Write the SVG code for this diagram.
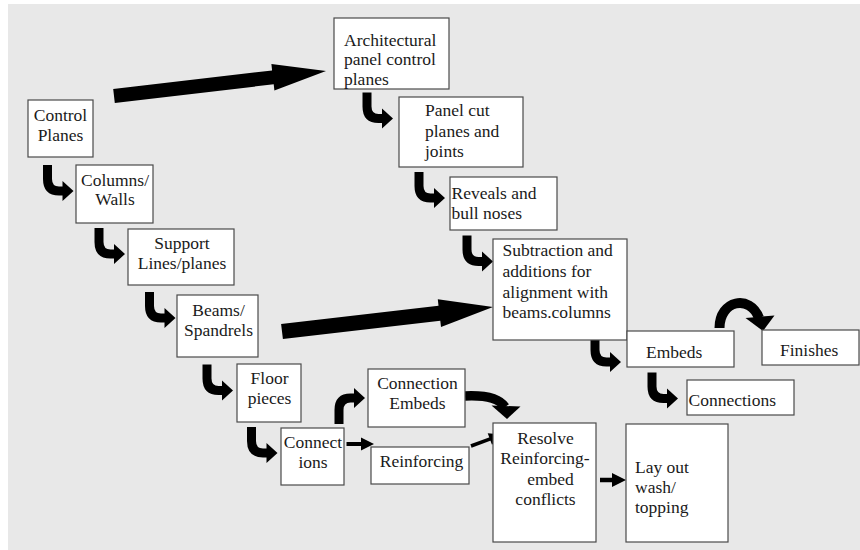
<svg xmlns="http://www.w3.org/2000/svg" xmlns:xlink="http://www.w3.org/1999/xlink" width="860" height="550" viewBox="0 0 860 550" font-family="'Liberation Serif', 'Times New Roman', serif">
<style>
.box{fill:#ffffff;stroke:#4a4a4a;stroke-width:1.2}
.t{font-size:17.5px;fill:#1a1a1a}
.c{text-anchor:middle}
.ar{fill:#000}
.ln{stroke:#000;fill:none}
</style>
<defs>
<path id="bend" d="M0,0 H9 V14 Q9,21.5 16,21.5 H19.5 V16 L30.5,26 L19.5,36 V30.5 H16 Q0,30.5 0,14 Z"/>
</defs>
<rect x="0" y="0" width="860" height="550" fill="#ffffff"/>
<rect x="8" y="4" width="852" height="546" fill="#e8e8e8"/>

<g id="connectors">
<polygon class="ar" points="113.2,89.1 272.1,70.4 271.4,64 326,71 274.4,90.6 273.7,84.3 114.8,103"/>
<polygon class="ar" points="281.1,324 438.5,305.8 437.8,299.3 493,307 441,327.1 440.3,320.7 282.9,339"/>
<use xlink:href="#bend" class="ar" x="43" y="165"/>
<use xlink:href="#bend" class="ar" x="94.5" y="228"/>
<use xlink:href="#bend" class="ar" x="145" y="292"/>
<use xlink:href="#bend" class="ar" x="202.5" y="364.5"/>
<use xlink:href="#bend" class="ar" x="247" y="427"/>
<use xlink:href="#bend" class="ar" x="362.5" y="92.5"/>
<use xlink:href="#bend" class="ar" x="414.5" y="172"/>
<use xlink:href="#bend" class="ar" x="462.5" y="235.5"/>
<use xlink:href="#bend" class="ar" x="590.5" y="336"/>
<use xlink:href="#bend" class="ar" x="647.5" y="372.5"/>
<use xlink:href="#bend" class="ar" transform="translate(334.5,424) scale(1,-1)"/>
<path class="ln" stroke-width="9.5" d="M465,396 C486,395 499,398 505,407"/>
<polygon class="ar" points="491.5,405.5 520.5,406.5 507,419"/>
<path class="ln" stroke-width="10" d="M719.5,328 C719.5,300 750,294 759,318"/>
<polygon class="ar" points="745.5,318 774.5,315.5 763,331"/>
<line class="ln" stroke-width="4" x1="346.5" y1="444" x2="362" y2="444"/>
<polygon class="ar" points="361,437.5 374,444 361,450.5"/>
<line class="ln" stroke-width="3.5" x1="471" y1="446" x2="491" y2="438.6"/>
<polygon class="ar" points="487.7,433.2 502.5,434.5 492,444.8"/>
<line class="ln" stroke-width="4.5" x1="600" y1="480" x2="613" y2="480"/>
<polygon class="ar" points="612,473 626,480 612,487"/>
</g>

<g id="n-control-planes">
<rect class="box" x="28" y="100" width="65" height="57"/>
<text class="t c" x="60.5" y="120.5">Control</text>
<text class="t c" x="60.5" y="140.5">Planes</text>
</g>
<g id="n-columns-walls">
<rect class="box" x="76" y="165" width="77" height="58"/>
<text class="t c" x="115" y="186">Columns/</text>
<text class="t c" x="115" y="205">Walls</text>
</g>
<g id="n-support">
<rect class="box" x="128" y="229" width="106" height="56"/>
<text class="t c" x="182" y="249">Support</text>
<text class="t c" x="182" y="269">Lines/planes</text>
</g>
<g id="n-beams">
<rect class="box" x="177" y="295" width="81" height="62"/>
<text class="t c" x="218.5" y="315.5">Beams/</text>
<text class="t c" x="218.5" y="336">Spandrels</text>
</g>
<g id="n-floor">
<rect class="box" x="237" y="364" width="64" height="58"/>
<text class="t c" x="269.5" y="384">Floor</text>
<text class="t c" x="269.5" y="404">pieces</text>
</g>
<g id="n-connections-left">
<rect class="box" x="281" y="428" width="63" height="57"/>
<text class="t c" x="313" y="447.5">Connect</text>
<text class="t c" x="313" y="467.5">ions</text>
</g>
<g id="n-connection-embeds">
<rect class="box" x="368" y="369" width="97" height="58"/>
<text class="t c" x="417.5" y="389">Connection</text>
<text class="t c" x="417.5" y="409">Embeds</text>
</g>
<g id="n-reinforcing">
<rect class="box" x="371" y="447" width="98" height="37"/>
<text class="t c" x="421.5" y="466.5">Reinforcing</text>
</g>
<g id="n-architectural">
<rect class="box" x="334" y="18" width="115" height="71"/>
<text class="t" x="344" y="45.5">Architectural</text>
<text class="t" x="344" y="65">panel control</text>
<text class="t" x="344" y="84.5">planes</text>
</g>
<g id="n-panel-cut">
<rect class="box" x="399" y="97" width="124" height="70"/>
<text class="t" x="425" y="116">Panel cut</text>
<text class="t" x="425" y="136.5">planes and</text>
<text class="t" x="425" y="157">joints</text>
</g>
<g id="n-reveals">
<rect class="box" x="450" y="177" width="107" height="53"/>
<text class="t" x="451.5" y="198.5">Reveals and</text>
<text class="t" x="451.5" y="219">bull noses</text>
</g>
<g id="n-subtraction">
<rect class="box" x="493" y="239" width="134" height="101"/>
<text class="t" x="502.5" y="256">Subtraction and</text>
<text class="t" x="502.5" y="276.5">additions for</text>
<text class="t" x="502.5" y="297.5">alignment with</text>
<text class="t" x="502.5" y="318">beams.columns</text>
</g>
<g id="n-embeds">
<rect class="box" x="627" y="331" width="107" height="36"/>
<text class="t" x="646" y="357.5">Embeds</text>
</g>
<g id="n-finishes">
<rect class="box" x="762" y="330" width="97" height="35"/>
<text class="t" x="780" y="356">Finishes</text>
</g>
<g id="n-connections-right">
<rect class="box" x="687" y="380" width="107" height="35"/>
<text class="t" x="688.5" y="405.5">Connections</text>
</g>
<g id="n-resolve">
<rect class="box" x="493" y="423" width="103" height="119"/>
<text class="t c" x="545.5" y="443.5">Resolve</text>
<text class="t c" x="545" y="464">Reinforcing-</text>
<text class="t c" x="550.5" y="484.5">embed</text>
<text class="t c" x="545.5" y="504.5">conflicts</text>
</g>
<g id="n-layout">
<rect class="box" x="626" y="424" width="102" height="118"/>
<text class="t" x="635" y="472.5">Lay out</text>
<text class="t" x="635" y="493">wash/</text>
<text class="t" x="635" y="513">topping</text>
</g>
</svg>
